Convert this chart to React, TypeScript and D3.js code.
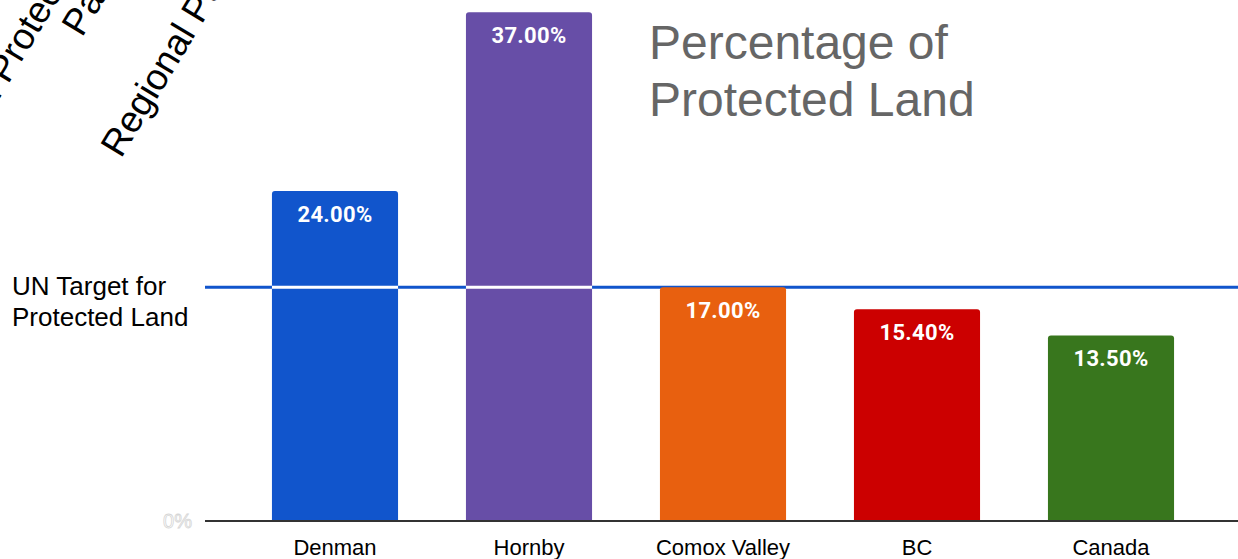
import React, { useEffect } from 'react';
import * as d3 from 'd3';

const places = ['Denman', 'Hornby', 'Comox Valley', 'BC', 'Canada'];
const protectedPct = [24.0, 37.0, 17.0, 15.4, 13.5];
const barColors = ['#1155cc', '#674ea7', '#e8600f', '#cc0000', '#38761d'];
const unTarget = 17;
const titleLines = ['Percentage of', 'Protected Land'];
const targetLines = ['UN Target for', 'Protected Land'];
// leftovers from the slide, cut off at the top edge
const offLabels = ['Provincial Protected', 'Parks', 'Regional Parks'];

const W = 1238;
const H = 559;

const App = () => {
  useEffect(() => {
    document.body.style.margin = '0';
    document.body.style.overflow = 'hidden';
  }, []);

  const x = d3.scaleBand<string>().domain(places).range([238, 1208]).paddingInner(0.35).paddingOuter(0.175);
  const y = d3.scaleLinear().domain([0, 40]).range([521, -29]);
  const fmt = d3.format('.2f');
  const bw = x.bandwidth();
  const r = 3;

  const barPath = (i: number) => {
    const x0 = x(places[i])!;
    const y0 = y(protectedPct[i]);
    const y1 = y(0);
    const p = d3.path();
    p.moveTo(x0, y1);
    p.lineTo(x0, y0 + r);
    p.arcTo(x0, y0, x0 + r, y0, r);
    p.lineTo(x0 + bw - r, y0);
    p.arcTo(x0 + bw, y0, x0 + bw, y0 + r, r);
    p.lineTo(x0 + bw, y1);
    p.closePath();
    return p.toString();
  };

  const ty = y(unTarget);

  return (
    <svg width={W} height={H} style={{ position: 'absolute', left: 0, top: 0, display: 'block' }}>
      <rect width={W} height={H} fill="#fff" />

      {/* target line behind, white cut where bars are taller */}
      <line x1={205} x2={W} y1={ty} y2={ty} stroke="#1155cc" strokeWidth={3} />

      {places.map((p, i) => (
        <path key={p} d={barPath(i)} fill={barColors[i]} />
      ))}

      {places.map((p, i) =>
        protectedPct[i] > unTarget ? (
          <line key={p + 'w'} x1={x(p)!} x2={x(p)! + bw} y1={ty} y2={ty} stroke="#fff" strokeWidth={3} />
        ) : null
      )}

      {places.map((p, i) => (
        <text
          key={p + 'v'}
          x={x(p)! + bw / 2}
          y={y(protectedPct[i]) + 31}
          textAnchor="middle"
          fill="#fff"
          fontFamily="Roboto, Arial, sans-serif"
          fontWeight="bold"
          fontSize={22}
          letterSpacing={0.3}
        >
          {fmt(protectedPct[i])}%
        </text>
      ))}

      {/* baseline */}
      <line x1={205} x2={W} y1={y(0)} y2={y(0)} stroke="#333" strokeWidth={2} />
      <text
        x={192}
        y={y(0) + 7}
        textAnchor="end"
        fill="#fff"
        stroke="#d6d6d6"
        strokeWidth={0.8}
        fontFamily="Arial, 'Liberation Sans', sans-serif"
        fontSize={20}
      >
        0%
      </text>

      {places.map((p) => (
        <text
          key={p + 'c'}
          x={x(p)! + bw / 2}
          y={555}
          textAnchor="middle"
          fill="#000"
          fontFamily="Arial, 'Liberation Sans', sans-serif"
          fontSize={22}
        >
          {p}
        </text>
      ))}

      {targetLines.map((t, i) => (
        <text key={t} x={12} y={295 + i * 31} fill="#000" fontFamily="Arial, 'Liberation Sans', sans-serif" fontSize={26}>
          {t}
        </text>
      ))}

      {titleLines.map((t, i) => (
        <text key={t} x={649} y={59 + i * 57} fill="#666" fontFamily="Arial, 'Liberation Sans', sans-serif" fontSize={48}>
          {t}
        </text>
      ))}

      <g fontFamily="Arial, 'Liberation Sans', sans-serif" fontSize={37} fill="#000">
        <text transform="translate(-80,231) rotate(-59)">{offLabels[0]}</text>
        <text transform="translate(82,38) rotate(-59)">{offLabels[1]}</text>
        <text transform="translate(121,159) rotate(-59)">{offLabels[2]}</text>
      </g>
    </svg>
  );
};

export default App;
